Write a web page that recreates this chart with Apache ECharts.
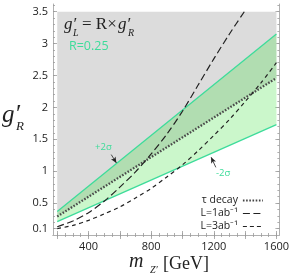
<!DOCTYPE html>
<html><head><meta charset="utf-8">
<script src="https://cdn.jsdelivr.net/npm/echarts@6/dist/echarts.min.js"></script>
<style>html,body{margin:0;padding:0;background:#fff}#c{width:292px;height:276px}</style>
</head><body><div id="c"></div>
<script>
// ---- data ----
const bandX    = [200, 1600];
const upper2s  = [0.37, 3.15];   // +2σ
const tauDecay = [0.29, 2.46];   // τ decay (dotted)
const lower2s  = [0.21, 1.73];   // -2σ
const regionTop = [3.5, 3.5];

const lumi1X = [200, 300, 400, 500, 600, 700, 800, 900, 1000, 1100, 1200, 1300, 1395];
const lumi1Y = [0.13, 0.22, 0.35, 0.53, 0.75, 0.99, 1.27, 1.58, 1.94, 2.35, 2.76, 3.15, 3.5];

const lumi3X = [200, 300, 400, 500, 600, 700, 800, 900, 1000, 1100, 1200, 1300, 1400, 1500, 1600];
const lumi3Y = [0.10, 0.15, 0.23, 0.33, 0.44, 0.58, 0.73, 0.91, 1.10, 1.32, 1.56, 1.81, 2.09, 2.38, 2.70];

const xTickLabels = [400, 800, 1200, 1600];
const yTickLabels = [0.1, 0.5, 1, 1.5, 2, 2.5, 3, 3.5];

// ---- helpers ----
const zip = (xs, ys) => xs.map((x, i) => [x, ys[i]]);
const XMIN = 173, XMAX = 1619, YMIN = 0, YMAX = 3.62;
const xMajor = [], xMinor = [], yMajor = [0.1], yMinor = [];
for (let v = 200; v <= 1600; v += 200) xMajor.push(v);
for (let v = 200; v <= 1600; v += 50) xMinor.push(v);
for (let v = 0.5; v <= 3.5001; v += 0.5) yMajor.push(+v.toFixed(1));
for (let v = 0.1; v <= 3.6001; v += 0.1) yMinor.push(+v.toFixed(1));

const TEAL = '#3ddc9a';
const FRAME = '#b0b0b0';
const TICKC = '#9a9a9a';
const labelFont = {fontFamily: 'Open Sans', fontSize: 11, color: '#222'};

function xAx(pos, ticks, len, labels, line) {
  return {type: 'value', position: pos, min: XMIN, max: XMAX,
    axisLine: {show: line, lineStyle: {color: FRAME, width: 1}},
    axisTick: {show: true, inside: true, length: len, customValues: ticks, lineStyle: {color: TICKC, width: 0.8}},
    axisLabel: labels ? Object.assign({show: true, customValues: labels, margin: 6, formatter: v => String(v)}, labelFont) : {show: false},
    splitLine: {show: false}};
}
function yAx(pos, ticks, len, labels, line) {
  return {type: 'value', position: pos, min: YMIN, max: YMAX,
    axisLine: {show: line, lineStyle: {color: FRAME, width: 1}},
    axisTick: {show: true, inside: true, length: len, customValues: ticks, lineStyle: {color: TICKC, width: 0.8}},
    axisLabel: labels ? Object.assign({show: true, customValues: labels, margin: 5, formatter: v => String(v)}, labelFont) : {show: false},
    splitLine: {show: false}};
}
// filled region between two boundary lines, drawn through the axes' scales
function region(name, xs, lo, hi, fill, z) {
  return {name: name, type: 'custom', silent: true, clip: true, z: z,
    data: xs.map((x, i) => [x, lo[i], hi[i]]),
    encode: {x: 0, y: [1, 2]},
    renderItem: function (params, api) {
      if (params.dataIndex !== 0) return null;
      const pts = [];
      for (let i = 0; i < xs.length; i++) pts.push(api.coord([xs[i], lo[i]]));
      for (let i = xs.length - 1; i >= 0; i--) pts.push(api.coord([xs[i], hi[i]]));
      return {type: 'polygon', shape: {points: pts}, style: {fill: fill}};
    }};
}

const chart = echarts.init(document.getElementById('c'), null, {renderer: 'canvas'});
chart.setOption({
  animation: false,
  backgroundColor: '#fff',
  grid: {left: 53, right: 10, top: 4, bottom: 41, containLabel: false},
  xAxis: [
    xAx('bottom', xMajor, 4, xTickLabels, true),
    xAx('bottom', xMinor, 2, null, false),
    xAx('top', xMajor, 4, null, true),
    xAx('top', xMinor, 2, null, false)
  ],
  yAxis: [
    yAx('left', yMajor, 4, yTickLabels, true),
    yAx('left', yMinor, 2, null, false),
    yAx('right', yMajor, 4, null, true),
    yAx('right', yMinor, 2, null, false)
  ],
  legend: {
    data: [
      {name: 'τ decay', lineStyle: {type: [1.6, 1.6], width: 2.2, color: '#444'}},
      {name: 'L=1ab⁻¹', lineStyle: {type: [7, 3.5], width: 1.2, color: '#222'}},
      {name: 'L=3ab⁻¹', lineStyle: {type: [4, 3], width: 1.2, color: '#222'}}
    ],
    orient: 'vertical', align: 'right', right: 23, top: 190,
    itemWidth: 20, itemHeight: 8, itemGap: 2,
    itemStyle: {opacity: 0},
    textStyle: {fontFamily: 'Open Sans', fontSize: 10.5, color: '#222'}
  },
  series: [
    region('excluded', bandX, tauDecay, regionTop, '#dcdcdc', 1),
    region('band', bandX, lower2s, upper2s, 'rgba(56,224,56,0.26)', 2),
    {name: '+2σ', type: 'line', symbol: 'none', data: zip(bandX, upper2s),
     lineStyle: {color: TEAL, width: 1.3}, z: 3,
     markLine: {silent: true, symbol: ['none', 'arrow'], symbolSize: [4, 6],
       lineStyle: {color: '#222', width: 0.8, type: 'solid'}, label: {show: false},
       data: [[{coord: [545, 1.26]}, {coord: [578, 1.13]}]]},
     markPoint: {silent: true, symbol: 'circle', symbolSize: 0,
       label: {show: true, position: 'inside', formatter: '+2σ', color: TEAL, fontSize: 9.5, fontFamily: 'Open Sans'},
       data: [{coord: [495, 1.37]}]}},
    {name: '-2σ', type: 'line', symbol: 'none', data: zip(bandX, lower2s),
     lineStyle: {color: TEAL, width: 1.3}, z: 3,
     markLine: {silent: true, symbol: ['none', 'arrow'], symbolSize: [4, 6],
       lineStyle: {color: '#222', width: 0.8, type: 'solid'}, label: {show: false},
       data: [[{coord: [1213, 1.06]}, {coord: [1183, 1.22]}]]},
     markPoint: {silent: true, symbol: 'circle', symbolSize: 0,
       label: {show: true, position: 'inside', formatter: '-2σ', color: TEAL, fontSize: 9.5, fontFamily: 'Open Sans'},
       data: [{coord: [1260, 0.97]}]}},
    {name: 'τ decay', type: 'line', symbol: 'none', data: zip(bandX, tauDecay),
     lineStyle: {color: '#4a4a4a', width: 2.3, type: [1.6, 1.6]}, itemStyle: {color: '#555'}, z: 4},
    {name: 'L=1ab⁻¹', type: 'line', symbol: 'none', data: zip(lumi1X, lumi1Y), smooth: 0.3,
     lineStyle: {color: '#222', width: 1.2, type: [7, 3.5]}, itemStyle: {color: '#222'}, z: 4},
    {name: 'L=3ab⁻¹', type: 'line', symbol: 'none', data: zip(lumi3X, lumi3Y), smooth: 0.3,
     lineStyle: {color: '#222', width: 1.2, type: [4, 3.5]}, itemStyle: {color: '#222'}, z: 4}
  ],
  graphic: {elements: [
    // formula g'_L = R x g'_R
    {type: 'text', z: 100, x: 64, y: 33, style: {text: 'g′', font: 'italic 17px "Liberation Serif"', fill: '#222', verticalAlign: 'bottom'}},
    {type: 'text', z: 100, x: 73, y: 38, style: {text: 'L', font: 'italic 10px "Liberation Serif"', fill: '#222', verticalAlign: 'bottom'}},
    {type: 'text', z: 100, x: 82, y: 33, style: {text: '= R×', font: '17px "Liberation Serif"', fill: '#222', verticalAlign: 'bottom'}},
    {type: 'text', z: 100, x: 118, y: 33, style: {text: 'g′', font: 'italic 17px "Liberation Serif"', fill: '#222', verticalAlign: 'bottom'}},
    {type: 'text', z: 100, x: 128, y: 38, style: {text: 'R', font: 'italic 10px "Liberation Serif"', fill: '#222', verticalAlign: 'bottom'}},
    {type: 'text', z: 100, x: 69, y: 40, style: {text: 'R=0.25', font: '12.5px "Open Sans"', fill: TEAL, verticalAlign: 'top'}},
    // y-axis title g'_R
    {type: 'text', z: 100, x: 2, y: 128, style: {text: 'g′', font: 'italic 25px "Liberation Serif"', fill: '#222', verticalAlign: 'bottom'}},
    {type: 'text', z: 100, x: 16, y: 133, style: {text: 'R', font: 'italic 13px "Liberation Serif"', fill: '#222', verticalAlign: 'bottom'}},
    // x-axis title m_Z' [GeV]
    {type: 'text', z: 100, x: 129, y: 272, style: {text: 'm', font: 'italic 20px "Liberation Serif"', fill: '#222', verticalAlign: 'bottom'}},
    {type: 'text', z: 100, x: 150, y: 275, style: {text: 'Z′', font: 'italic 10px "Liberation Serif"', fill: '#222', verticalAlign: 'bottom'}},
    {type: 'text', z: 100, x: 163, y: 273, style: {text: '[GeV]', font: '18px "Liberation Serif"', fill: '#222', verticalAlign: 'bottom'}}
  ]}
});
</script></body></html>
